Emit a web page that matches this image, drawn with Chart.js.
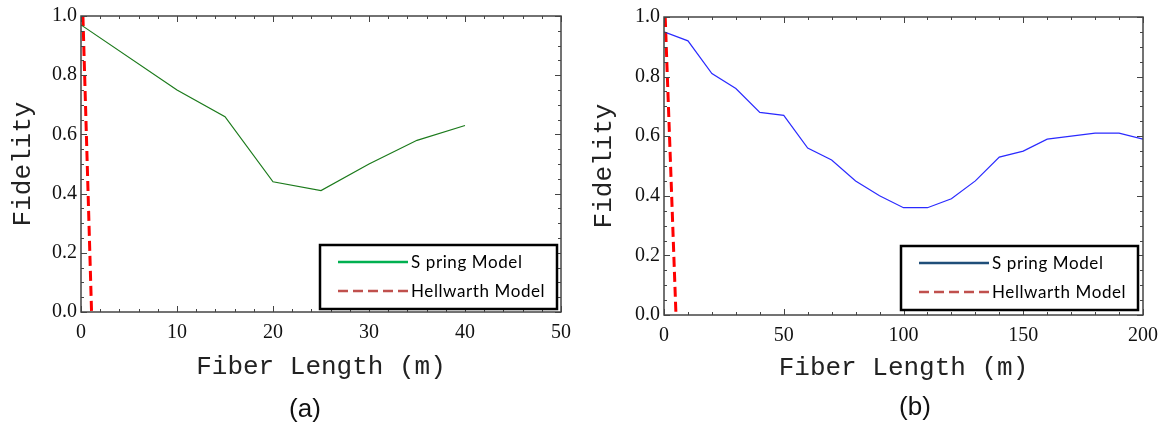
<!DOCTYPE html>
<html>
<head>
<meta charset="utf-8">
<script src="https://cdn.jsdelivr.net/npm/chart.js@4"></script>
<style>
  body { margin: 0; background: #fff; width: 1167px; height: 424px; position: relative; overflow: hidden; }
  .panel { position: absolute; top: 0; }
  .tag { position: absolute; font-family: "Liberation Sans", Arial, sans-serif; font-size: 26px; color: #111; transform: translate(-50%, -50%); }
</style>
</head>
<body>
<div class="panel" style="left:0"><canvas id="chart-a" width="580" height="424"></canvas></div>
<div class="panel" style="left:580px"><canvas id="chart-b" width="587" height="424"></canvas></div>
<div class="tag" style="left:305px; top:408px">(a)</div>
<div class="tag" style="left:915px; top:406px">(b)</div>

<script>
// --- Dados ---

// Painel (a): 0 - 50 m
const lengthA = [0, 10, 15, 20, 25, 30, 35, 40];
const springA = [0.97, 0.75, 0.66, 0.44, 0.41, 0.50, 0.58, 0.63];
const hellLengthA = [0.2, 1.1];
const hellA = [1.0, 0.0];

// Painel (b): 0 - 200 m
const lengthB = [0, 10, 20, 30, 40, 50, 60, 70, 80, 90, 100, 110, 120, 130, 140, 150, 160, 170, 180, 190, 200];
const springB = [0.95, 0.92, 0.81, 0.76, 0.68, 0.67, 0.56, 0.52, 0.45, 0.40, 0.36, 0.36, 0.39, 0.45, 0.53, 0.55, 0.59, 0.60, 0.61, 0.61, 0.59];
const hellLengthB = [0.5, 5];
const hellB = [1.0, 0.0];

const legendLabels = ['S pring Model', 'Hellwarth Model'];
const xTitle = 'Fiber Length (m)';
const yTitle = 'Fidelity';

const toPoints = (xs, ys) => xs.map((x, i) => ({ x: x, y: ys[i] }));

// Moldura com ticks para dentro (major + minor)
const framePlugin = {
    id: 'frame',
    afterDatasetsDraw(chart, args, opts) {
        const { ctx, chartArea: a, scales } = chart;
        const xs = scales.x, ys = scales.y;
        ctx.save();
        ctx.strokeStyle = '#444';
        ctx.lineWidth = 1.5;
        ctx.strokeRect(a.left, a.top, a.right - a.left, a.bottom - a.top);
        ctx.lineWidth = 1;
        const tick = (px, isX, len) => {
            ctx.beginPath();
            if (isX) {
                ctx.moveTo(px, a.bottom); ctx.lineTo(px, a.bottom - len);
                ctx.moveTo(px, a.top); ctx.lineTo(px, a.top + len);
            } else {
                ctx.moveTo(a.left, px); ctx.lineTo(a.left + len, px);
                ctx.moveTo(a.right, px); ctx.lineTo(a.right - len, px);
            }
            ctx.stroke();
        };
        for (let v = xs.min; v <= xs.max + 1e-9; v += opts.xMinor) {
            const major = Math.abs(v / opts.xMajor - Math.round(v / opts.xMajor)) < 1e-6;
            tick(Math.round(xs.getPixelForValue(v)) + 0.5, true, major ? 6 : 3);
        }
        for (let v = ys.min; v <= ys.max + 1e-9; v += 0.05) {
            const major = Math.abs(v / 0.2 - Math.round(v / 0.2)) < 1e-6;
            tick(Math.round(ys.getPixelForValue(v)) + 0.5, false, major ? 6 : 3);
        }
        ctx.restore();
    }
};

// Legenda dentro da 치rea do gr치fico (canto inferior direito)
const boxLegendPlugin = {
    id: 'boxLegend',
    afterDraw(chart, args, opts) {
        const { ctx, chartArea: a } = chart;
        const w = 237, h = 64;
        const right = a.right - opts.offsetRight, bottom = a.bottom - opts.offsetBottom;
        const left = right - w, top = bottom - h;
        ctx.save();
        ctx.fillStyle = '#fff';
        ctx.fillRect(left, top, w, h);
        ctx.strokeStyle = '#000';
        ctx.lineWidth = 2.5;
        ctx.strokeRect(left, top, w, h);

        const rows = [
            { label: legendLabels[0], color: opts.springColor, dash: [], y: top + 17 },
            { label: legendLabels[1], color: '#c0504d', dash: [10, 5], y: top + 46 }
        ];
        rows.forEach(r => {
            ctx.beginPath();
            ctx.setLineDash(r.dash);
            ctx.strokeStyle = r.color;
            ctx.lineWidth = 2.5;
            ctx.moveTo(left + 18, r.y);
            ctx.lineTo(left + 88, r.y);
            ctx.stroke();
            ctx.setLineDash([]);
            ctx.fillStyle = '#000';
            ctx.font = '17px Lato, "Open Sans", sans-serif';
            ctx.letterSpacing = '0.6px';
            ctx.textBaseline = 'middle';
            ctx.textAlign = 'left';
            ctx.fillText(r.label, left + 91, r.y + 1);
        });
        ctx.restore();
    }
};

function criarPainel(canvasId, cfg) {
    const ctx = document.getElementById(canvasId);
    return new Chart(ctx, {
        type: 'line',
        data: {
            datasets: [
                {
                    label: legendLabels[0],
                    data: toPoints(cfg.lengths, cfg.spring),
                    borderColor: cfg.lineColor,
                    borderWidth: 1.2,
                    pointRadius: 0,
                    tension: 0,
                    fill: false
                },
                {
                    label: legendLabels[1],
                    data: toPoints(cfg.hellLengths, cfg.hell),
                    borderColor: '#ff0000',
                    borderWidth: 3,
                    borderDash: [10, 5],
                    pointRadius: 0,
                    tension: 0,
                    fill: false
                }
            ]
        },
        options: {
            responsive: false,
            animation: false,
            layout: { padding: { left: 0, top: cfg.top, right: cfg.right, bottom: 0 } },
            plugins: {
                legend: { display: false },
                tooltip: { enabled: false },
                frame: { xMajor: cfg.xStep, xMinor: cfg.xMinor },
                boxLegend: { springColor: cfg.legendColor, offsetRight: cfg.legRight, offsetBottom: cfg.legBottom }
            },
            scales: {
                x: {
                    type: 'linear',
                    min: 0, max: cfg.xMax,
                    grid: { display: false, drawTicks: false },
                    border: { display: false },
                    ticks: {
                        stepSize: cfg.xStep, padding: 9, color: '#111', maxRotation: 0,
                        font: { family: '"Liberation Serif", "Times New Roman", serif', size: 20 }
                    },
                    title: {
                        display: true, text: xTitle, color: '#222',
                        font: { family: '"Liberation Mono", "Courier New", monospace', size: 26 },
                        padding: { top: 0, bottom: cfg.xTitlePad }
                    },
                    afterFit: s => { s.height = cfg.xAxisH; }
                },
                y: {
                    min: 0, max: 1,
                    grid: { display: false, drawTicks: false },
                    border: { display: false },
                    ticks: {
                        stepSize: 0.2, padding: 4, color: '#111',
                        callback: v => v.toFixed(1),
                        font: { family: '"Liberation Serif", "Times New Roman", serif', size: 20 }
                    },
                    title: {
                        display: true, text: yTitle, color: '#222',
                        font: { family: '"Liberation Mono", "Courier New", monospace', size: 26 },
                        padding: { top: cfg.yTitlePad, bottom: 0 }
                    },
                    afterFit: s => { s.width = cfg.yAxisW; }
                }
            }
        },
        plugins: [framePlugin, boxLegendPlugin]
    });
}

criarPainel('chart-a', {
    lengths: lengthA, spring: springA, hellLengths: hellLengthA, hell: hellA,
    lineColor: '#1b7a1b', legendColor: '#00b050',
    xMax: 50, xStep: 10, xMinor: 2,
    top: 16, right: 18, xAxisH: 112, yAxisW: 81,
    xTitlePad: 41, yTitlePad: 8,
    legRight: 4, legBottom: 3
});

criarPainel('chart-b', {
    lengths: lengthB, spring: springB, hellLengths: hellLengthB, hell: hellB,
    lineColor: '#2a2aff', legendColor: '#1f4e79',
    xMax: 200, xStep: 50, xMinor: 10,
    top: 17, right: 19, xAxisH: 109, yAxisW: 84,
    xTitlePad: 40, yTitlePad: 9,
    legRight: 5, legBottom: 5
});
</script>
</body>
</html>
